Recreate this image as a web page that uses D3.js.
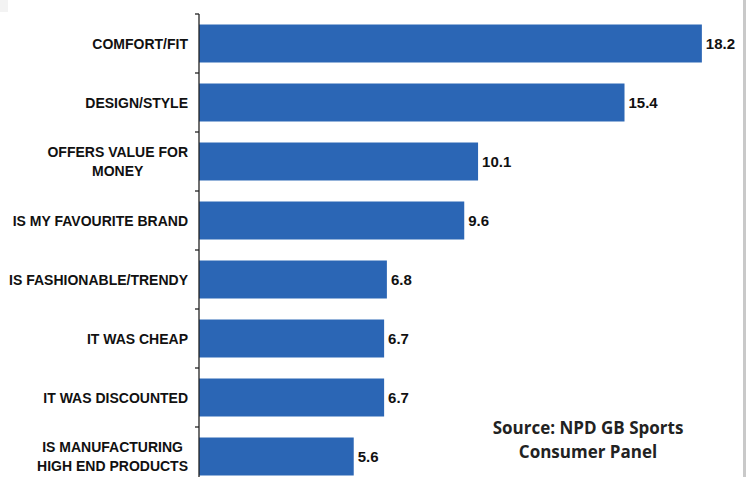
<!DOCTYPE html>
<html>
<head>
<meta charset="utf-8">
<script src="https://cdn.jsdelivr.net/npm/d3@7/dist/d3.min.js"></script>
<style>
  html, body { margin: 0; padding: 0; background: #fff; }
  svg { display: block; }
</style>
</head>
<body>
<script>
const categories = [
  "COMFORT/FIT",
  "DESIGN/STYLE",
  "OFFERS VALUE FOR\nMONEY",
  "IS MY FAVOURITE BRAND",
  "IS FASHIONABLE/TRENDY",
  "IT WAS CHEAP",
  "IT WAS DISCOUNTED",
  "IS MANUFACTURING\nHIGH END PRODUCTS"
];
const values = [18.2, 15.4, 10.1, 9.6, 6.8, 6.7, 6.7, 5.6];
const sourceLines = ["Source: NPD GB Sports", "Consumer Panel"];

const W = 746, H = 477;
const svg = d3.select("body").append("svg").attr("width", W).attr("height", H);

// background details
svg.append("rect").attr("x", 0).attr("y", 0).attr("width", 8).attr("height", 12).attr("fill", "#f3f3f3");
svg.append("rect").attr("x", 743).attr("y", 0).attr("width", 3).attr("height", H).attr("fill", "#c9c9c9");

const axisX = 199;
const x = d3.scaleLinear().domain([0, 20]).range([axisX, axisX + 20 * 27.63]);
const y = d3.scaleBand().domain(categories).range([14, 14 + 8 * 59]).paddingInner(0.356).paddingOuter(0.178);

const data = categories.map((c, i) => ({ cat: c, v: values[i] }));

// bars
svg.append("g").selectAll("rect").data(data).join("rect")
  .attr("x", x(0))
  .attr("y", d => y(d.cat))
  .attr("width", d => x(d.v) - x(0))
  .attr("height", y.bandwidth())
  .attr("fill", "#2b66b5");

// axis line and boundary ticks
const axisG = svg.append("g");
axisG.append("line")
  .attr("x1", axisX).attr("x2", axisX)
  .attr("y1", 14).attr("y2", H)
  .attr("stroke", "#222").attr("stroke-width", 1.3);
const boundaries = categories.map(c => y(c) - y.step() * y.paddingInner() / 2);
axisG.selectAll("line.tick").data(boundaries).join("line")
  .attr("class", "tick")
  .attr("x1", axisX - 4).attr("x2", axisX)
  .attr("y1", d => d).attr("y2", d => d)
  .attr("stroke", "#222").attr("stroke-width", 1.3);

// category labels
const labelRight = 188;
const lineGap = 19;
const labG = svg.append("g")
  .attr("font-family", "'Liberation Sans', Arial, sans-serif")
  .attr("font-weight", "bold")
  .attr("font-size", 14)
  .attr("fill", "#111");
data.forEach(d => {
  const lines = d.cat.split("\n");
  const cy = y(d.cat) + y.bandwidth() / 2;
  const t = labG.append("text").attr("text-anchor", "middle");
  const spans = lines.map((ln, i) =>
    t.append("tspan").text(ln)
      .attr("y", cy + 5 + (i - (lines.length - 1) / 2) * lineGap)
  );
  const maxW = d3.max(spans, s => s.node().getComputedTextLength());
  spans.forEach(s => s.attr("x", labelRight - maxW / 2));
});

// value labels
svg.append("g")
  .attr("font-family", "'Liberation Sans', Arial, sans-serif")
  .attr("font-weight", "bold")
  .attr("font-size", 15)
  .attr("fill", "#111")
  .selectAll("text").data(data).join("text")
  .attr("x", d => x(d.v) + 4)
  .attr("y", d => y(d.cat) + y.bandwidth() / 2 + 5.5)
  .text(d => d.v.toFixed(1));

// source note
svg.append("g")
  .attr("font-family", "'Open Sans', 'Noto Sans', sans-serif")
  .attr("font-weight", "bold")
  .attr("font-size", 17)
  .attr("fill", "#222")
  .attr("text-anchor", "middle")
  .selectAll("text").data(sourceLines).join("text")
  .attr("x", 588)
  .attr("y", (d, i) => 434 + i * 24)
  .text(d => d);
</script>
</body>
</html>
